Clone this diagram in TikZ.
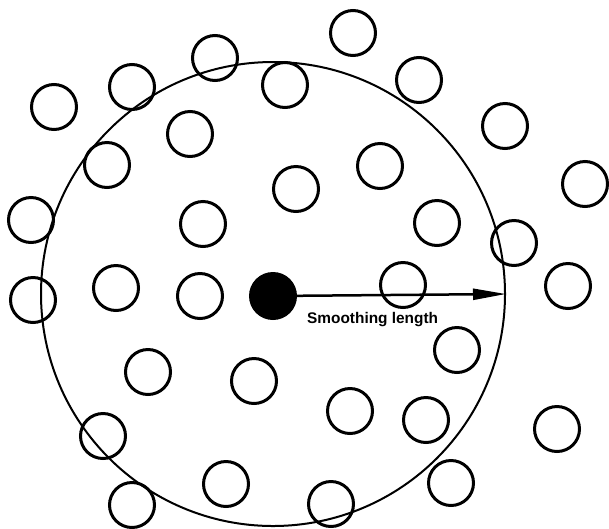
\documentclass[tikz,border=0pt]{standalone}
\usepackage{fontspec}
\setmainfont{Liberation Sans}
\usetikzlibrary{arrows.meta}
\begin{document}
\begin{tikzpicture}[x=1pt,y=-1pt,
  particle/.style={circle,draw,line width=3pt,minimum size=45pt,inner sep=0pt},
  centre/.style={circle,fill=black,minimum size=48pt,inner sep=0pt},
  kernel/.style={circle,draw,line width=2pt,minimum size=464pt,inner sep=0pt},
  radius arrow/.style={-{Triangle[length=33pt,width=11pt]},line width=2.5pt},
  lbl/.style={font=\fontsize{15.4}{18}\selectfont\bfseries,inner sep=0pt,anchor=west}]
\useasboundingbox (0,0) rectangle (609,528);
\node[kernel] (big) at (273,294) {};
\node[centre] (c) at (273,296) {};
\foreach \n/\x/\y in {1/54/107,2/132/87,3/215/58,4/285/85,5/353/33,6/419/80,7/505/126,
  8/585/184,9/190/134,10/107/165,11/380/166,12/296/189,13/31/220,14/203/224,15/437/223,
  16/514/243,17/568/286,18/33/300,19/116/288,20/200/296,21/403/285,22/457/350,
  23/148/372,24/254/381,25/350/411,26/426/420,27/557/429,28/103/436,29/226/484,
  30/132/505,31/331/504,32/451/483}
  \node[particle] (p\n) at (\x,\y) {};
\draw[radius arrow] (c.center) -- (big.east);
\node[lbl] (h) at (307,320) {Smoothing length};
\end{tikzpicture}
\end{document}
